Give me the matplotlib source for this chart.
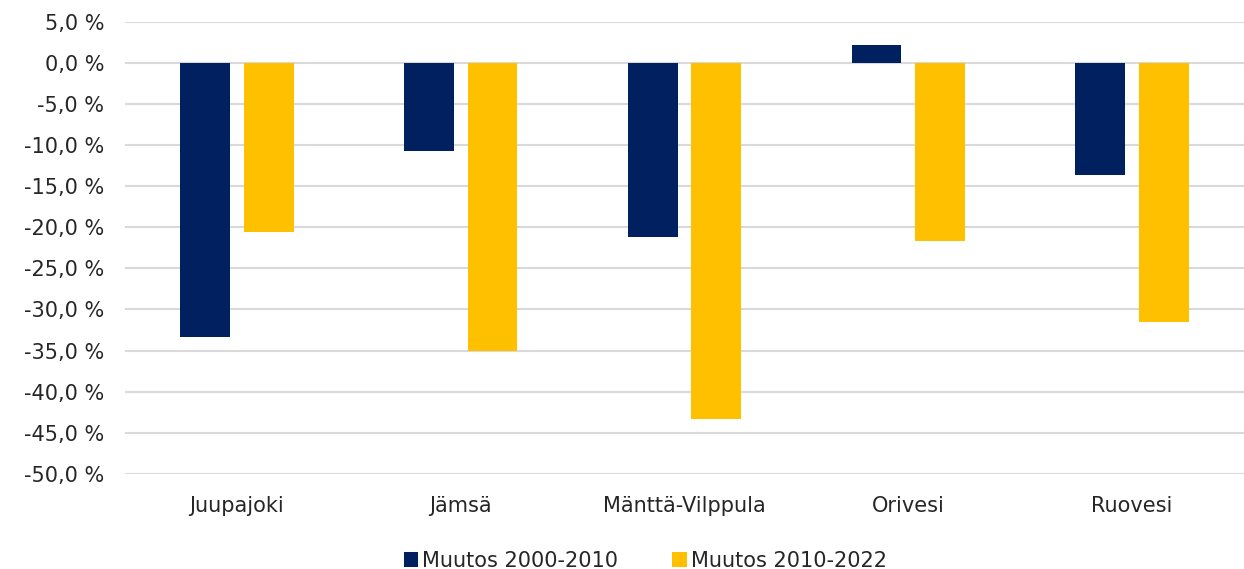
import matplotlib.pyplot as plt
import numpy as np

kunnat = ['Juupajoki', 'Jämsä', 'Mänttä-Vilppula', 'Orivesi', 'Ruovesi']
muutos_2000_2010 = [-33.4, -10.7, -21.2, 2.2, -13.7]
muutos_2010_2022 = [-20.6, -35.0, -43.3, -21.7, -31.5]
y_ticks = np.arange(-50, 5.1, 5)

plt.rcParams['font.family'] = ['DejaVu Sans']

fig, ax = plt.subplots(figsize=(12.44, 5.69), dpi=100)
fig.subplots_adjust(left=0.1005, right=1.0, top=0.962, bottom=0.167)

x = np.arange(len(kunnat))
w = 0.222
ax.bar(x - 0.142, muutos_2000_2010, w, color='#002060', label='Muutos 2000-2010', zorder=3)
ax.bar(x + 0.142, muutos_2010_2022, w, color='#FFC000', label='Muutos 2010-2022', zorder=3)

ax.set_ylim(-50, 5)
ax.set_xlim(-0.5, len(kunnat) - 0.5)
ax.set_yticks(y_ticks)
ax.set_yticklabels([('%.1f %%' % v).replace('.', ',') for v in y_ticks])
ax.set_xticks(x)
ax.set_xticklabels(kunnat)
ax.tick_params(axis='both', length=0, labelsize=15, colors='#262626')
ax.tick_params(axis='y', pad=15)
ax.tick_params(axis='x', pad=16)
ax.grid(axis='y', color='#d9d9d9', linewidth=1.5, zorder=0)
for s in ax.spines.values():
    s.set_visible(False)

ax.legend(loc='lower center', bbox_to_anchor=(0.465, -0.255), ncol=2, frameon=False,
          fontsize=15, handlelength=0.7, handleheight=0.7, handletextpad=0.2,
          columnspacing=2.6, labelcolor='#262626')

plt.savefig('out.png', dpi=100)
